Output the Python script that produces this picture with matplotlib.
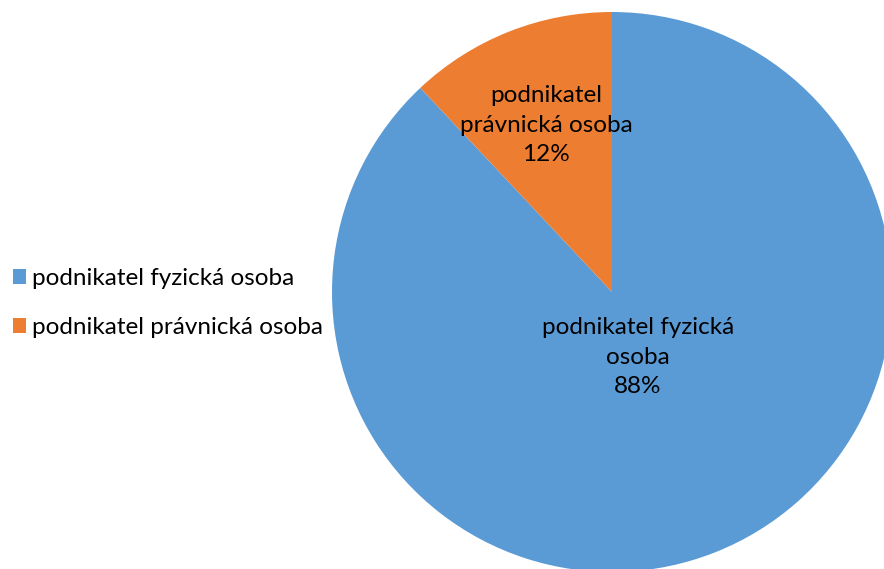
import matplotlib.pyplot as plt
import numpy as np

labels = ["podnikatel fyzická osoba", "podnikatel právnická osoba"]
label_text = ["podnikatel fyzická\nosoba", "podnikatel\nprávnická osoba"]
values = [88, 12]
colors = ["#5B9BD5", "#ED7D31"]

plt.rcParams['font.family'] = ['Lato', 'DejaVu Sans']

fig = plt.figure(figsize=(8.84, 5.69), dpi=100)
ax = fig.add_axes([(612 - 280) / 884, (277 - 280) / 569, 560 / 884, 560 / 569])
wedges, _ = ax.pie(values, colors=colors, startangle=90, counterclock=False,
                   radius=1.0, wedgeprops=dict(linewidth=0))
ax.set_xlim(-1, 1)
ax.set_ylim(-1, 1)
ax.set_aspect('equal')

# data labels, best-fit style
dists = [0.25, 0.64]
total = sum(values)
for w, txt, v, d in zip(wedges, label_text, values, dists):
    mid = np.deg2rad((w.theta1 + w.theta2) / 2)
    ax.text(d * np.cos(mid), d * np.sin(mid), f"{txt}\n{v / total:.0%}",
            ha='center', va='center', fontsize=17.5, linespacing=1.5)

fig.legend(wedges, labels, loc='center left', bbox_to_anchor=(-0.002, 0.467),
           frameon=False, fontsize=17.5, handlelength=0.55, handleheight=0.55,
           handletextpad=0.22, labelspacing=1.15, borderaxespad=0.2)

fig.savefig("out.png", dpi=100)
